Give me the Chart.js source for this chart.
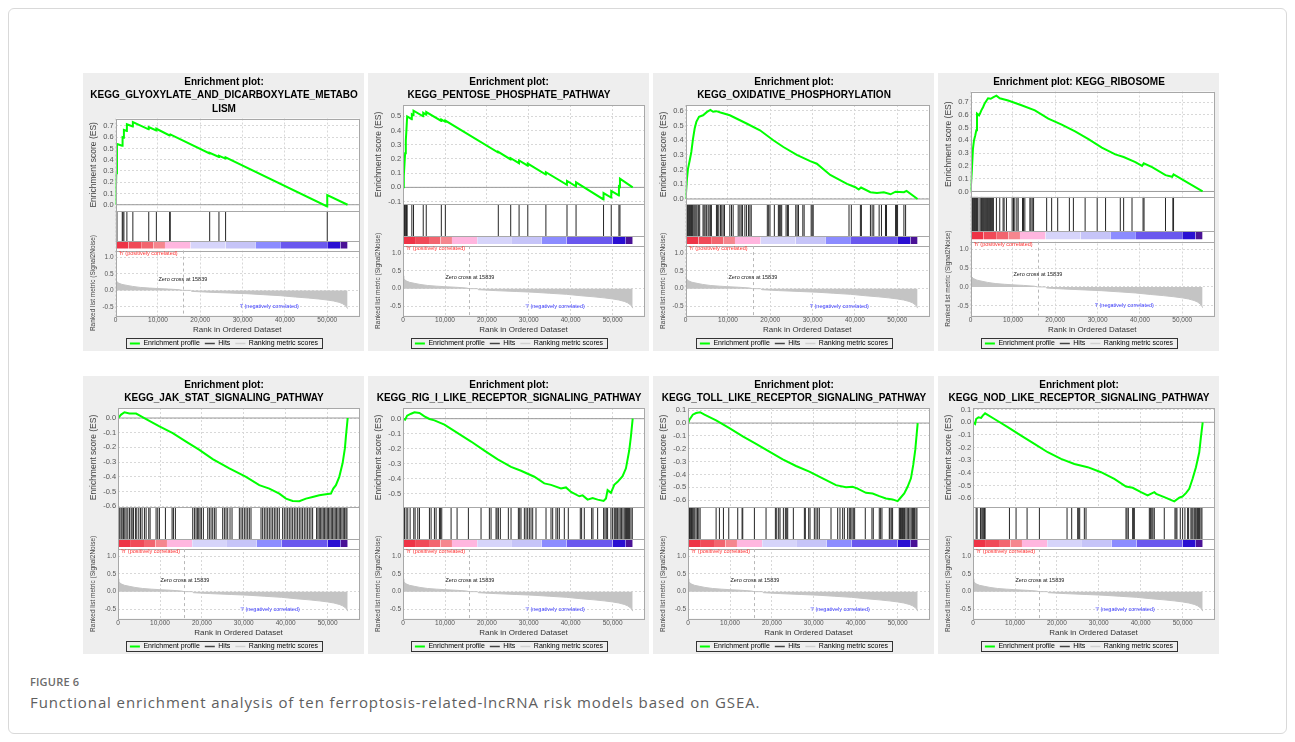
<!DOCTYPE html>
<html>
<head>
<meta charset="utf-8">
<script src="https://cdn.jsdelivr.net/npm/chart.js@4.4.1/dist/chart.umd.min.js"></script>
<style>
  html, body { margin: 0; padding: 0; background: #fff; }
  #page { position: relative; width: 1295px; height: 742px; overflow: hidden; background: #fff; }
  #frame { position: absolute; left: 8px; top: 8px; width: 1279px; height: 726px; border: 1px solid #d9d9d9; border-radius: 6px; box-sizing: border-box; }
  .panel { position: absolute; width: 281px; height: 278px; background: #eeeeee; }
  .panel canvas { display: block; }
  #figlabel { position: absolute; left: 30px; top: 674px; font: 600 11px "Open Sans", sans-serif; color: #6b6b6b; letter-spacing: 0.2px; }
  #caption { position: absolute; left: 30px; top: 692px; font: 15px "Open Sans", sans-serif; color: #5e5e5e; letter-spacing: 0.9px; }
</style>
</head>
<body>
<div id="page">
  <div id="frame"></div>
  <div id="figlabel">FIGURE 6</div>
  <div id="caption">Functional enrichment analysis of ten ferroptosis-related-lncRNA risk models based on GSEA.</div>
</div>
<script>
// GSEA enrichment plots, 2 rows x 4 panels
const X_MAX = 57500;
const ZERO_CROSS = 15839;
const xTicks = [0, 10000, 20000, 30000, 40000, 50000];

const titles = [
  ["Enrichment plot:", "KEGG_GLYOXYLATE_AND_DICARBOXYLATE_METABO", "LISM"],
  ["Enrichment plot:", "KEGG_PENTOSE_PHOSPHATE_PATHWAY"],
  ["Enrichment plot:", "KEGG_OXIDATIVE_PHOSPHORYLATION"],
  ["Enrichment plot: KEGG_RIBOSOME"],
  ["Enrichment plot:", "KEGG_JAK_STAT_SIGNALING_PATHWAY"],
  ["Enrichment plot:", "KEGG_RIG_I_LIKE_RECEPTOR_SIGNALING_PATHWAY"],
  ["Enrichment plot:", "KEGG_TOLL_LIKE_RECEPTOR_SIGNALING_PATHWAY"],
  ["Enrichment plot:", "KEGG_NOD_LIKE_RECEPTOR_SIGNALING_PATHWAY"],
];

// y range of the enrichment score part of each panel
const esMin = [-0.057, -0.117, -0.034, -0.042, -0.605, -0.587, -0.653, -0.67];
const esMax = [0.766, 0.58, 0.64, 0.783, 0.068, 0.071, 0.117, 0.113];

// running enrichment score
const es1Ranks = [0, 156, 313, 1540, 1565, 1720, 1940, 1956, 2640, 2660, 4050, 4070, 7800, 7825, 9600, 9625, 12740, 12755, 12910, 22200, 22220, 24400, 24410, 25960, 25980, 49980, 50000, 54800];
const es1Values = [0, 0.28, 0.54, 0.525, 0.57, 0.6, 0.595, 0.665, 0.655, 0.715, 0.695, 0.735, 0.67, 0.69, 0.66, 0.675, 0.615, 0.62, 0.625, 0.455, 0.462, 0.425, 0.435, 0.41, 0.42, -0.015, 0.085, 0];

const es2Ranks = [0, 160, 320, 480, 640, 800, 960, 2060, 2080, 2460, 2480, 4780, 4800, 5500, 5520, 9100, 9120, 10060, 10080, 22700, 22720, 25660, 25680, 27660, 27680, 29740, 29760, 34060, 34080, 39100, 39120, 41260, 41280, 47820, 47840, 49660, 49680, 51500, 51520, 51740, 51760, 54800];
const es2Values = [0, 0.08, 0.16, 0.24, 0.33, 0.41, 0.5, 0.48, 0.515, 0.508, 0.54, 0.5, 0.525, 0.512, 0.53, 0.468, 0.478, 0.462, 0.47, 0.245, 0.25, 0.197, 0.205, 0.17, 0.19, 0.153, 0.167, 0.09, 0.107, 0.018, 0.045, 0.007, 0.035, -0.085, -0.04, -0.072, -0.025, -0.057, 0.005, 0.0, 0.062, 0];

const es3Ranks = [0, 316, 554, 950, 1345, 1740, 2135, 2530, 3164, 4113, 5060, 5850, 6490, 7280, 8230, 10440, 14400, 17560, 20720, 23100, 26260, 29430, 31000, 34170, 38130, 40100, 40900, 41450, 43660, 45200, 46830, 48410, 49600, 51570, 52200, 54800];
const es3Values = [0, 0.137, 0.205, 0.26, 0.32, 0.41, 0.48, 0.525, 0.56, 0.57, 0.593, 0.607, 0.594, 0.598, 0.589, 0.57, 0.514, 0.468, 0.4, 0.354, 0.3, 0.258, 0.24, 0.164, 0.103, 0.08, 0.064, 0.078, 0.046, 0.041, 0.046, 0.032, 0.05, 0.046, 0.055, 0];

const es4Ranks = [0, 316, 554, 790, 1100, 1345, 1500, 1980, 2215, 2530, 2930, 3320, 4110, 4750, 5300, 6090, 6880, 8860, 12020, 15190, 18350, 21520, 24680, 27840, 31000, 34170, 36150, 38920, 40500, 40900, 42870, 46040, 47620, 47940, 54800];
const es4Values = [0, 0.18, 0.336, 0.4, 0.44, 0.48, 0.61, 0.596, 0.61, 0.635, 0.66, 0.69, 0.73, 0.726, 0.737, 0.75, 0.73, 0.713, 0.675, 0.635, 0.57, 0.523, 0.47, 0.41, 0.344, 0.29, 0.27, 0.23, 0.2, 0.22, 0.19, 0.128, 0.115, 0.133, 0];

const es5Ranks = [0, 715, 1510, 2700, 4290, 5090, 6680, 9860, 13040, 16220, 19400, 22580, 26550, 30530, 33700, 36090, 38480, 40070, 41660, 43250, 44840, 46430, 48020, 49610, 50800, 51360, 51990, 52790, 53580, 54140, 54380, 54800];
const es5Values = [0, 0.023, 0.039, 0.03, 0.03, 0.018, -0.007, -0.057, -0.103, -0.16, -0.217, -0.28, -0.342, -0.4, -0.457, -0.48, -0.514, -0.548, -0.564, -0.566, -0.548, -0.537, -0.525, -0.518, -0.514, -0.48, -0.457, -0.4, -0.308, -0.205, -0.125, 0];

const es6Ranks = [0, 477, 954, 1900, 2700, 3900, 5090, 6280, 7470, 9860, 13040, 16220, 19400, 22580, 25760, 28140, 31320, 33700, 35300, 37680, 38880, 40070, 42060, 42850, 44040, 45230, 46430, 47860, 48420, 48810, 49610, 50400, 51200, 52390, 53190, 53980, 54380, 54800];
const es6Values = [0, -0.007, 0.02, 0.033, 0.042, 0.038, 0.016, -0.002, -0.011, -0.04, -0.096, -0.152, -0.212, -0.27, -0.32, -0.346, -0.386, -0.43, -0.44, -0.464, -0.457, -0.487, -0.516, -0.51, -0.538, -0.527, -0.538, -0.547, -0.53, -0.475, -0.493, -0.44, -0.42, -0.382, -0.33, -0.21, -0.118, 0];

const es7Ranks = [0, 320, 1110, 1900, 2860, 3900, 6680, 9860, 13040, 16220, 19400, 22580, 25760, 28940, 32120, 35300, 37680, 39270, 40460, 42450, 44040, 45630, 47220, 48810, 50000, 50560, 51590, 52390, 53190, 53740, 54220, 54800];
const es7Values = [0, 0.026, 0.065, 0.078, 0.084, 0.065, 0.021, -0.039, -0.104, -0.162, -0.222, -0.282, -0.334, -0.378, -0.43, -0.483, -0.5, -0.496, -0.51, -0.543, -0.548, -0.569, -0.587, -0.594, -0.608, -0.587, -0.548, -0.496, -0.43, -0.326, -0.209, 0];

const es8Ranks = [0, 477, 715, 1270, 1900, 2300, 2860, 5090, 8270, 11450, 14630, 17810, 20990, 24170, 27350, 30530, 33700, 36490, 38080, 40070, 41660, 43250, 43700, 45630, 48020, 49210, 50000, 50800, 51590, 52390, 53190, 53980, 54380, 54800];
const es8Values = [0, -0.013, 0.026, 0.039, 0.034, 0.053, 0.071, 0.026, -0.039, -0.105, -0.171, -0.237, -0.29, -0.33, -0.355, -0.395, -0.447, -0.508, -0.518, -0.553, -0.579, -0.553, -0.566, -0.592, -0.626, -0.597, -0.587, -0.56, -0.526, -0.447, -0.355, -0.237, -0.118, 0];

// positions of gene set members in the ranked list
const hits1 = [156, 313, 1565, 1720, 1956, 2660, 4070, 7825, 9625, 12755, 12910, 22220, 24410, 25980, 50000];
const hits2 = [160, 320, 480, 640, 800, 960, 2080, 2480, 4800, 5520, 9120, 10080, 22720, 25680, 27680, 29760, 34080, 39120, 41280, 47840, 49680, 51520, 51760];
const hits3 = [160, 320, 470, 630, 790, 950, 1110, 1270, 1420, 1580, 1740, 1980, 2210, 2450, 2690, 3010, 3320, 4110, 4350, 4590, 4900, 5300, 5540, 5850, 6090, 7280, 7510, 7830, 8230, 8540, 8860, 9180, 10440, 10840, 11230, 12420, 12810, 13130, 13450, 14000, 14400, 14870, 15190, 15500, 19300, 19620, 19930, 20960, 21910, 22150, 22460, 22700, 23730, 24050, 24280, 26020, 26340, 26660, 27690, 28000, 29660, 29900, 30140, 38600, 39150, 41290, 41530, 43660, 44060, 44450, 45720, 46270, 47220, 47460, 49600, 49830, 50070, 51570, 51970];
const hits4 = [160, 320, 470, 630, 790, 950, 1110, 1270, 1420, 1580, 1740, 2210, 2450, 2610, 2770, 3010, 3240, 3480, 3720, 3960, 4190, 4430, 4670, 4900, 5140, 5380, 6090, 6880, 7670, 7910, 8460, 9810, 10130, 10440, 10920, 11230, 12260, 12500, 12810, 14000, 14240, 14550, 14870, 17960, 19140, 20570, 23330, 24280, 27050, 29900, 31880, 35360, 36150, 38130, 40740, 40970, 46040, 47780, 47940];
const hits5 = [160, 400, 720, 950, 1270, 1590, 1910, 2310, 2700, 3100, 3340, 3660, 4130, 4450, 4930, 5330, 5720, 6280, 6680, 7310, 7630, 9060, 9460, 9860, 11290, 12880, 13200, 13670, 17810, 18210, 18600, 18920, 19240, 19560, 19880, 20350, 21390, 21780, 22180, 22580, 22980, 23370, 24960, 25360, 25760, 26160, 26710, 27190, 28940, 29340, 29730, 30130, 30530, 30930, 31320, 31720, 34110, 34500, 34900, 35300, 35700, 36090, 36490, 36890, 37290, 37680, 38080, 38480, 39270, 39670, 40070, 40470, 40860, 41260, 41660, 42060, 42450, 42850, 43250, 43650, 44040, 44440, 44840, 45240, 45630, 46030, 46430, 47380, 47700, 48020, 48340, 48650, 48970, 49290, 49610, 49930, 50240, 50560, 50880, 51200, 51520, 51830, 52150, 52470, 52790, 53110, 53420, 53740, 54060, 54380, 54620];
const hits6 = [320, 720, 1110, 1670, 2540, 2860, 3500, 3900, 6280, 6680, 7470, 7870, 8670, 8900, 9220, 11450, 12880, 15580, 18600, 20590, 20990, 22180, 22420, 22740, 23210, 25120, 25760, 27510, 27830, 28140, 28940, 29340, 29730, 30130, 30530, 30930, 31720, 34110, 35300, 35700, 36490, 36890, 37290, 38480, 39430, 42290, 42610, 43250, 45000, 45320, 46430, 47860, 48180, 48500, 48810, 49610, 50010, 50400, 50640, 50880, 51200, 51520, 51830, 52150, 52470, 52790, 53110, 53340, 53580, 53820, 54060, 54380, 54700];
const hits7 = [160, 320, 480, 640, 790, 950, 1110, 1350, 1590, 1910, 2230, 2540, 2860, 6680, 7470, 8430, 9700, 11840, 12880, 13040, 15820, 18600, 20830, 21150, 21620, 21940, 22740, 23210, 23530, 23770, 25120, 27750, 27980, 28780, 29100, 30130, 30530, 30930, 31320, 34110, 35700, 36250, 36890, 37290, 38080, 38480, 38800, 39110, 39430, 39750, 42290, 43880, 44200, 45630, 45950, 46270, 48020, 48180, 48500, 48810, 50400, 50560, 50720, 50880, 51040, 51200, 51440, 51670, 51990, 52310, 52630, 52950, 53260, 53580, 53820, 54060, 54380, 54620];
const hits8 = [720, 950, 1750, 2070, 2310, 2540, 2700, 2860, 8670, 10250, 12880, 15820, 22420, 23530, 24960, 25200, 25440, 26550, 26950, 36490, 36730, 37050, 38080, 38320, 38480, 42060, 42290, 42450, 42690, 42930, 43250, 45630, 48180, 48420, 48650, 49450, 50010, 50560, 51200, 51440, 51990, 52230, 52470, 52790, 53030, 53260, 53580, 53820, 54060, 54380, 54620];

// ranked list metric (same list in every panel)
const metricRanks = [0, 150, 700, 1500, 2700, 4000, 5800, 8000, 10000, 12500, 15000, 15839, 17700, 18000, 22000, 27000, 31000, 35000, 39000, 42500, 45500, 48000, 50000, 51500, 52800, 53600, 54200, 54600, 54800];
const metricValues = [0.36, 0.28, 0.22, 0.18, 0.15, 0.12, 0.09, 0.07, 0.055, 0.04, 0.02, 0, 0, -0.03, -0.055, -0.08, -0.1, -0.13, -0.16, -0.2, -0.23, -0.26, -0.29, -0.32, -0.36, -0.4, -0.45, -0.5, -0.55];

// red-to-blue heat bar under the hits
const bandStops = [0, 3050, 6180, 8920, 11660, 17680, 25980, 33020, 39050, 50000, 53130, 54800];
const bandColors = ["#ee3346", "#f04a58", "#f2656f", "#f5868e", "#ffb6df", "#d6d4fa", "#c6c4f8", "#8c8cff", "#6a58ee", "#2a0fd2", "#4a1296"];

const esRanks = [es1Ranks, es2Ranks, es3Ranks, es4Ranks, es5Ranks, es6Ranks, es7Ranks, es8Ranks];
const esValues = [es1Values, es2Values, es3Values, es4Values, es5Values, es6Values, es7Values, es8Values];
const hitSets = [hits1, hits2, hits3, hits4, hits5, hits6, hits7, hits8];

const panelLeft = [83, 368, 653, 938];
const panelTop = [73, 376];

const FONT = '"Liberation Sans", Arial, sans-serif';
const FRAME = "#a8a8a8";
const LEGEND_TRIM = 6;

const legendItems = [
  { text: "Enrichment profile", strokeStyle: "#00ff00", fillStyle: "#00ff00", lineWidth: 2, pointStyle: "line", hidden: false },
  { text: "Hits", strokeStyle: "#444444", fillStyle: "#444444", lineWidth: 1.5, pointStyle: "line", hidden: false },
  { text: "Ranking metric scores", strokeStyle: "#d0d0d0", fillStyle: "#d0d0d0", lineWidth: 1.5, pointStyle: "line", hidden: false },
];

// white plot background, frame lines, metric annotations and legend box
const gseaDecor = {
  id: "gseaDecor",
  beforeLayout(chart) {
    const lg = chart.legend;
    if (lg && !lg._trimmed) {
      const fit = lg.fit;
      lg.fit = function () {
        fit.call(this);
        this.height = Math.max(0, this.height - LEGEND_TRIM);
      };
      lg._trimmed = true;
    }
  },
  beforeDraw(chart) {
    const a = chart.chartArea;
    const ctx = chart.ctx;
    ctx.save();
    ctx.fillStyle = "#ffffff";
    ctx.fillRect(a.left, a.top, a.right - a.left, a.bottom - a.top);
    ctx.restore();
  },
  beforeDatasetsDraw(chart) {
    const a = chart.chartArea;
    const h = chart.scales.hits;
    const ctx = chart.ctx;
    ctx.save();
    ctx.fillStyle = "#ffffff";
    ctx.fillRect(a.left, h.top, a.right - a.left, h.bottom - h.top);
    ctx.restore();
  },
  afterDatasetsDraw(chart) {
    const a = chart.chartArea;
    const { x, es, hits, metric } = chart.scales;
    const ctx = chart.ctx;
    ctx.save();
    ctx.strokeStyle = FRAME;
    ctx.lineWidth = 1;
    const hline = (y) => {
      ctx.beginPath();
      ctx.moveTo(a.left, Math.round(y) + 0.5);
      ctx.lineTo(a.right, Math.round(y) + 0.5);
      ctx.stroke();
    };
    hline(es.bottom);
    hline(hits.getPixelForValue(0));
    hline(hits.bottom);
    ctx.strokeRect(Math.round(a.left) + 0.5, Math.round(a.top) + 0.5, Math.round(a.right - a.left), Math.round(a.bottom - a.top));

    // zero cross marker
    const zx = Math.round(x.getPixelForValue(ZERO_CROSS)) + 0.5;
    ctx.setLineDash([3, 3]);
    ctx.strokeStyle = "#b8b8b8";
    ctx.beginPath();
    ctx.moveTo(zx, metric.top);
    ctx.lineTo(zx, metric.bottom);
    ctx.stroke();
    ctx.setLineDash([]);

    ctx.font = "5.5px " + FONT;
    ctx.textBaseline = "middle";
    ctx.fillStyle = "#ff3030";
    ctx.textAlign = "left";
    ctx.fillText("'h' (positively correlated)", a.left + 3, metric.top + 2.5);
    ctx.fillStyle = "#222222";
    ctx.fillText("Zero cross at " + ZERO_CROSS, x.getPixelForValue(10100), metric.getPixelForValue(0.32));
    ctx.fillStyle = "#4040ff";
    ctx.textAlign = "center";
    ctx.fillText("'l' (negatively correlated)", x.getPixelForValue(36300), metric.getPixelForValue(-0.49));
    ctx.restore();
  },
  afterDraw(chart) {
    const boxes = chart.legend && chart.legend.legendHitBoxes;
    if (!boxes || !boxes.length) return;
    let l = Infinity, r = -Infinity, t = Infinity, b = -Infinity;
    boxes.forEach((bx) => {
      l = Math.min(l, bx.left);
      r = Math.max(r, bx.left + bx.width);
      t = Math.min(t, bx.top);
      b = Math.max(b, bx.top + bx.height);
    });
    const ctx = chart.ctx;
    ctx.save();
    ctx.strokeStyle = "#333333";
    ctx.lineWidth = 1;
    ctx.strokeRect(Math.round(l - 4) + 0.5, Math.round(t - 2) + 0.5, Math.round(r - l + 8), Math.round(b - t + 3));
    ctx.restore();
  },
};

function buildPanel(i) {
  const div = document.createElement("div");
  div.className = "panel";
  div.style.left = panelLeft[i % 4] + "px";
  div.style.top = panelTop[Math.floor(i / 4)] + "px";
  const canvas = document.createElement("canvas");
  canvas.width = 281;
  canvas.height = 278;
  div.appendChild(canvas);
  document.getElementById("page").appendChild(div);

  const esData = esRanks[i].map((r, k) => ({ x: r, y: esValues[i][k] }));
  const metricData = metricRanks.map((r, k) => ({ x: r, y: metricValues[k] }));

  const bandSets = bandColors.map((c, k) => ({
    type: "line",
    label: "band" + k,
    data: [{ x: bandStops[k], y: 0 }, { x: bandStops[k + 1], y: 0 }],
    yAxisID: "hits",
    borderWidth: 0,
    borderColor: c,
    backgroundColor: c,
    pointRadius: 0,
    fill: { value: -0.233 },
  }));

  const datasets = [
    {
      type: "line",
      label: "Enrichment profile",
      data: esData,
      yAxisID: "es",
      borderColor: "#00ff00",
      borderWidth: 2,
      pointRadius: 0,
      tension: 0,
    },
    {
      type: "line",
      label: "es zero",
      data: [{ x: 0, y: 0 }, { x: X_MAX, y: 0 }],
      yAxisID: "es",
      borderColor: "#9a9a9a",
      borderWidth: 1,
      pointRadius: 0,
    },
    {
      type: "bar",
      label: "Hits",
      data: hitSets[i].map((r) => ({ x: r, y: [0, 1] })),
      yAxisID: "hits",
      backgroundColor: "#262626",
      borderWidth: 0,
      barThickness: 1,
      inflateAmount: 0,
    },
    ...bandSets,
    {
      type: "line",
      label: "Ranking metric scores",
      data: metricData,
      yAxisID: "metric",
      borderColor: "#c4c4c4",
      borderWidth: 1,
      backgroundColor: "#c4c4c4",
      fill: "origin",
      pointRadius: 0,
    },
  ];

  const tickFont = { family: FONT, size: 6.5 };

  return new Chart(canvas, {
    type: "line",
    data: { datasets },
    plugins: [gseaDecor],
    options: {
      responsive: false,
      animation: false,
      events: [],
      layout: { padding: { left: 6, right: 5, top: 0, bottom: 0 } },
      plugins: {
        tooltip: { enabled: false },
        title: {
          display: true,
          text: titles[i],
          color: "#000000",
          font: { family: FONT, size: 10, weight: "bold", lineHeight: 1.35 },
          padding: { top: 2, bottom: 3 },
        },
        legend: {
          position: "bottom",
          labels: {
            usePointStyle: true,
            pointStyle: "line",
            pointStyleWidth: 10,
            boxHeight: 7,
            padding: 5,
            color: "#222222",
            font: { family: FONT, size: 7 },
            generateLabels: () => legendItems.map((it) => Object.assign({}, it)),
          },
        },
      },
      scales: {
        x: {
          type: "linear",
          min: 0,
          max: X_MAX,
          offset: false,
          afterBuildTicks: (s) => { s.ticks = xTicks.map((v) => ({ value: v })); },
          ticks: { maxRotation: 0, autoSkip: false, font: tickFont, color: "#555555", padding: 1 },
          grid: { color: "#d8d8d8", drawTicks: false, offset: false },
          border: { display: false, dash: [2, 2] },
          title: { display: true, text: "Rank in Ordered Dataset", color: "#333333", font: { family: FONT, size: 8 }, padding: { top: 0, bottom: 0 } },
        },
        es: {
          type: "linear",
          position: "left",
          stack: "gsea",
          stackWeight: 0.47,
          weight: 3,
          min: esMin[i],
          max: esMax[i],
          ticks: { stepSize: 0.1, includeBounds: false, autoSkip: false, font: { family: FONT, size: 7.5 }, color: "#555555", padding: 2, callback: (v) => v.toFixed(1) },
          grid: { color: "#d8d8d8", drawTicks: false },
          border: { display: false, dash: [2, 2] },
          title: { display: true, text: "Enrichment score (ES)", color: "#444444", font: { family: FONT, size: 8.5 }, padding: { top: 0, bottom: 2 } },
        },
        hits: {
          type: "linear",
          position: "left",
          stack: "gsea",
          stackWeight: 0.2,
          weight: 2,
          min: -0.3,
          max: 1,
          ticks: { display: false },
          grid: { display: false },
          border: { display: false },
        },
        metric: {
          type: "linear",
          position: "left",
          stack: "gsea",
          stackWeight: 0.33,
          weight: 1,
          min: -0.76,
          max: 1.2,
          ticks: { stepSize: 0.5, includeBounds: false, autoSkip: false, font: tickFont, color: "#555555", padding: 2, callback: (v) => v.toFixed(1) },
          grid: { color: "#d8d8d8", drawTicks: false },
          border: { display: false, dash: [2, 2] },
          title: { display: true, text: "Ranked list metric (Signal2Noise)", color: "#444444", font: { family: FONT, size: 6.5 }, padding: { top: 0, bottom: 2 } },
        },
      },
    },
  });
}

for (let i = 0; i < 8; i++) buildPanel(i);
</script>
</body>
</html>
